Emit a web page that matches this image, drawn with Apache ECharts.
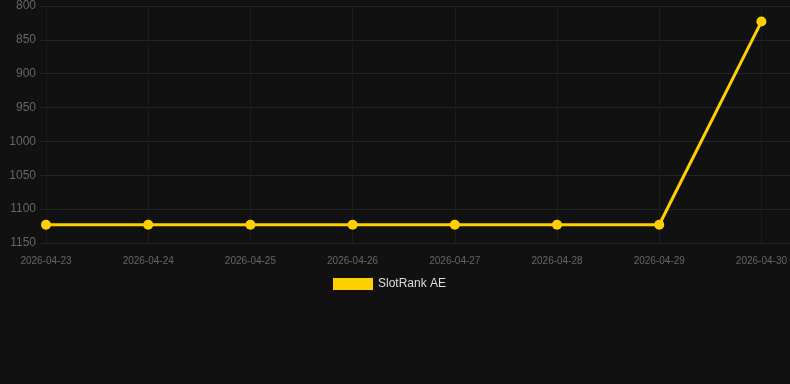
<!DOCTYPE html>
<html><head><meta charset="utf-8">
<script src="https://cdn.jsdelivr.net/npm/echarts@6/dist/echarts.min.js"></script>
<style>html,body{margin:0;padding:0;background:#111111;}#c{width:790px;height:384px;}</style>
</head><body><div id="c"></div>
<script>
var categories = ['2026-04-23','2026-04-24','2026-04-25','2026-04-26','2026-04-27','2026-04-28','2026-04-29','2026-04-30'];
var seriesName = 'SlotRank AE';
var values = [1123, 1123, 1123, 1123, 1123, 1123, 1123, 823];
var yMin = 800, yMax = 1150, yStep = 50;
var font = 'Arial, Liberation Sans, sans-serif';
var chart = echarts.init(document.getElementById('c'));
chart.setOption({
  backgroundColor: '#111111',
  animation: false,
  grid: [
    {left: 40, right: 0, top: 6, bottom: 141},
    {left: 46, right: 28, top: 6, bottom: 141}
  ],
  legend: {
    data: [seriesName], top: 273, left: 328,
    itemWidth: 40, itemHeight: 12, icon: 'rect',
    textStyle: {color: '#dddddd', fontSize: 12, fontFamily: font}
  },
  xAxis: [
    {gridIndex: 0, type: 'value', min: 0, max: 1, show: false},
    {
      gridIndex: 1, type: 'category', data: categories, boundaryGap: false,
      axisLine: {show: false},
      axisTick: {show: false},
      axisLabel: {color: '#666666', fontSize: 10, margin: 13, fontFamily: font},
      splitLine: {show: true, lineStyle: {color: '#1c1c1c'}}
    }
  ],
  yAxis: [
    {
      gridIndex: 0, type: 'value', inverse: true, min: yMin, max: yMax, interval: yStep,
      axisLine: {show: false}, axisTick: {show: false},
      axisLabel: {color: '#666666', fontSize: 12, margin: 4, fontFamily: font, formatter: function(v){return String(v);}},
      splitLine: {show: true, lineStyle: {color: '#242424'}}
    },
    {
      gridIndex: 1, type: 'value', inverse: true, min: yMin, max: yMax, interval: yStep,
      show: false, splitLine: {show: false}
    }
  ],
  series: [{
    name: seriesName, type: 'line', data: values,
    xAxisIndex: 1, yAxisIndex: 1,
    symbol: 'circle', symbolSize: 10,
    lineStyle: {color: '#FFD000', width: 3},
    itemStyle: {color: '#FFD000'}
  }]
});
</script></body></html>
